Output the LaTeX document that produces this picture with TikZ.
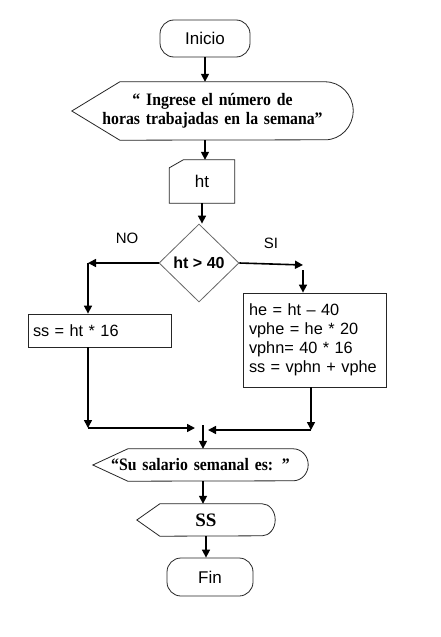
\documentclass[tikz,border=0pt]{standalone}
\usepackage{fontspec}
\setmainfont{Liberation Serif}
\setsansfont{Liberation Sans}
\newfontfamily\dispfont[FakeStretch=0.9]{Liberation Serif}
\usetikzlibrary{shapes.geometric,arrows.meta,calc}
\begin{document}
\begin{tikzpicture}[x=1pt,y=1pt,
  outline/.style={draw=black!85, line width=0.8pt},
  term/.style={outline, rounded corners=14pt, inner sep=0pt, font=\sffamily\fontsize{17}{20}\selectfont},
  box/.style={outline, inner sep=0pt, font=\sffamily\fontsize{16.3}{19}\selectfont, align=left},
  dtext/.style={inner sep=0pt, font=\dispfont\bfseries\fontsize{17.5}{19}\selectfont, align=center},
  flow/.style={line width=1.6pt, -{Triangle[length=8pt,width=8pt]}},
  lbl/.style={font=\sffamily\fontsize{15}{18}\selectfont}
]
\useasboundingbox[fill=white] (0,0) rectangle (440,-637);

% Inicio
\node[term, minimum width=90, minimum height=37] (ini) at (205,-38.5) {Inicio};

% display 1
\node[dtext, minimum width=281, minimum height=58, text width=250] (d1) at (212.5,-111) {“ Ingrese el número de\\horas trabajadas en la semana”};
\draw[outline] (d1.west) -- ($(d1.north west)+(48,0)$) -- ($(d1.north east)+(-28,0)$)
  arc[start angle=90,end angle=-90,x radius=28,y radius=29] -- ($(d1.south west)+(48,0)$) -- cycle;

% manual input ht
\node[minimum width=65, minimum height=43, inner sep=0pt, font=\sffamily\fontsize{17}{20}\selectfont] (ht) at (202,-181.5) {ht};
\draw[outline] ($(ht.north west)+(0,-8)$) -- ($(ht.north west)+(14,0)$) -- (ht.north east) -- (ht.south east) -- (ht.south west) -- cycle;

% decision
\node[diamond, draw=black!60, line width=0.8pt, minimum width=80, minimum height=78, inner sep=0pt,
  font=\sffamily\bfseries\fontsize{16}{18}\selectfont] (dia) at (199,-263) {ht > 40};

% boxes
\node[box, minimum width=143, minimum height=33, text width=133] (lbox) at (99.5,-330.5) {ss = ht * 16};
\node[box, minimum width=143, minimum height=94, text width=131] (rbox) at (314.5,-340) {he = ht -- 40\\vphe = he * 20\\vphn= 40 * 16\\ss = vphn + vphe};

% labels
\node[lbl] (no) at (127,-238) {NO};
\node[lbl] (si) at (271,-243) {SI};

% display 2
\node[dtext, minimum width=215, minimum height=32, text width=200] (d2) at (200.5,-465) {“Su salario semanal es: ”};
\draw[outline] (d2.west) -- ($(d2.north west)+(35,0)$) -- ($(d2.north east)+(-15,0)$)
  arc[start angle=90,end angle=-90,x radius=15,y radius=16] -- ($(d2.south west)+(35,0)$) -- cycle;

% display 3
\node[dtext, font=\rmfamily\bfseries\fontsize{19}{22}\selectfont, minimum width=138, minimum height=32] (d3) at (206,-520) {SS};
\draw[outline] (d3.west) -- ($(d3.north west)+(23,0)$) -- ($(d3.north east)+(-13,0)$)
  arc[start angle=90,end angle=-90,x radius=13,y radius=16] -- ($(d3.south west)+(23,0)$) -- cycle;

% Fin
\node[term, minimum width=86, minimum height=38] (fin) at (210,-577) {Fin};

% coordinates
\coordinate (noc) at (88,-263);
\coordinate (sic) at (303,-265);
\coordinate (lend) at (88,-428);
\coordinate (mjL) at (195,-428);
\coordinate (rend) at (311,-430);
\coordinate (mjR) at (208,-430);
\coordinate (mj) at (203,-425);

% connectors
\draw[flow] (ini.south) -- (ini.south |- d1.north);
\draw[flow] (ini.south |- d1.south) -- (ini.south |- ht.north);
\draw[flow] (ht.south) -- (ht.south |- dia.north);
\draw[flow] (dia.west) -- (noc);
\draw[flow] (noc) -- (noc |- lbox.north);
\draw[flow] (dia.east) -- (sic);
\draw[flow] ($(sic)+(0,-5)$) -- (sic |- rbox.north);
\draw[flow] (lbox.south -| lend) -- (lend);
\draw[flow] (lend) -- (mjL);
\draw[flow] (rbox.south -| rend) -- (rend);
\draw[flow] (rend) -- (mjR);
\draw[flow] (mj) -- (mj |- d2.north);
\draw[flow] (mj |- d2.south) -- (mj |- d3.north);
\draw[flow] (d3.south) -- (d3.south |- fin.north);
\end{tikzpicture}
\end{document}
